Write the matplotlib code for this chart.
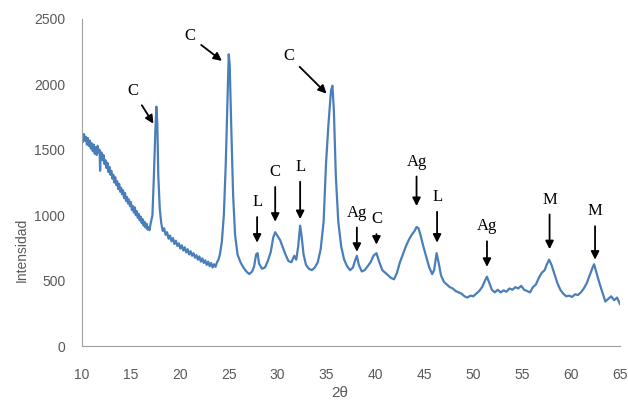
import matplotlib.pyplot as plt

# XRD pattern (2theta vs intensity)
two_theta = [
    10.0, 10.1, 10.2, 10.3, 10.4, 10.5, 10.6, 10.7, 10.8, 10.9, 11.0, 11.1,
    11.2, 11.3, 11.4, 11.5, 11.6, 11.7, 11.8, 11.85, 11.9, 12.0, 12.1, 12.2,
    12.3, 12.4, 12.5, 12.6, 12.7, 12.8, 12.9, 13.0, 13.1, 13.2, 13.3, 13.4,
    13.5, 13.6, 13.7, 13.8, 13.9, 14.0, 14.1, 14.2, 14.3, 14.4, 14.5, 14.6,
    14.7, 14.8, 14.9, 15.0, 15.1, 15.2, 15.3, 15.4, 15.5, 15.6, 15.7, 15.8,
    15.9, 16.0, 16.1, 16.2, 16.3, 16.4, 16.5, 16.6, 16.7, 16.8, 16.9, 17.0,
    17.2, 17.35, 17.5, 17.6, 17.7, 17.8, 17.95,
    18.1, 18.25, 18.4, 18.55, 18.7, 18.85, 19.0, 19.15, 19.3, 19.45, 19.6, 19.75,
    19.9, 20.05, 20.2, 20.35, 20.5, 20.65, 20.8, 20.95, 21.1, 21.25, 21.4, 21.55,
    21.7, 21.85, 22.0, 22.15, 22.3, 22.45, 22.6, 22.75, 22.9, 23.05, 23.2, 23.35,
    23.5, 23.65, 23.8, 23.95, 24.1, 24.3, 24.5, 24.7, 24.85,
    25.0, 25.1, 25.25, 25.45, 25.65, 25.9, 26.2, 26.5, 26.8, 27.1, 27.4, 27.6,
    27.8, 27.95, 28.1, 28.4, 28.7, 29.0, 29.3, 29.55, 29.75, 30.0, 30.25, 30.5,
    30.8, 31.1, 31.4, 31.7, 31.9, 32.1, 32.3, 32.45, 32.65, 32.9, 33.2, 33.5,
    33.8, 34.1, 34.4, 34.7, 34.95, 35.2, 35.45, 35.6, 35.75, 35.95, 36.2, 36.5,
    36.8, 37.1, 37.4, 37.7, 37.9, 38.1, 38.3, 38.6, 38.9, 39.2, 39.5, 39.8,
    40.1, 40.4, 40.7, 41.0, 41.3, 41.6, 41.9, 42.2, 42.5, 42.8, 43.1, 43.4,
    43.7, 44.0, 44.2, 44.4, 44.6, 44.9, 45.2, 45.5, 45.8, 46.0, 46.25, 46.45,
    46.7, 47.0, 47.3, 47.6, 47.9, 48.2, 48.5, 48.8, 49.1, 49.4, 49.7, 50.0,
    50.3, 50.6, 50.9, 51.2, 51.4, 51.6, 51.9, 52.2, 52.5, 52.8, 53.1, 53.4,
    53.7, 54.0, 54.3, 54.6, 54.9, 55.2, 55.5, 55.8, 56.1, 56.4, 56.7, 57.0,
    57.3, 57.5, 57.75, 58.0, 58.3, 58.6, 58.9, 59.2, 59.5, 59.8, 60.1, 60.4,
    60.7, 61.0, 61.3, 61.6, 61.9, 62.2, 62.35, 62.6, 62.9, 63.2, 63.5, 63.8,
    64.1, 64.4, 64.7, 65.0,
]
intensity = [
    1610, 1560, 1620, 1570, 1600, 1540, 1590, 1530, 1570, 1510, 1550, 1490,
    1540, 1470, 1520, 1460, 1530, 1480, 1500, 1340, 1470, 1480, 1420, 1460,
    1390, 1420, 1360, 1400, 1330, 1370, 1310, 1340, 1280, 1310, 1250, 1290,
    1230, 1260, 1200, 1240, 1180, 1210, 1160, 1190, 1130, 1170, 1110, 1140,
    1090, 1120, 1070, 1100, 1040, 1070, 1020, 1060, 1000, 1030, 980, 1010,
    960, 990, 940, 970, 920, 950, 905, 935, 890, 910, 885, 930,
    1000, 1300, 1650, 1830, 1700, 1300, 1050,
    940, 880, 900, 850, 870, 820, 845, 800, 825, 780, 805, 765,
    785, 745, 770, 730, 755, 715, 740, 700, 725, 690, 710, 675,
    695, 660, 685, 645, 670, 635, 655, 620, 645, 610, 635, 600,
    625, 605, 640, 660, 700, 800, 1000, 1400, 1800,
    2230, 2150, 1700, 1150, 850, 700, 640, 600, 570, 550, 570, 610,
    700, 710, 630, 590, 600, 650, 720, 830, 870, 840, 810, 760,
    700, 650, 640, 690, 660, 760, 920, 840, 700, 620, 590, 580,
    600, 640, 740, 950, 1400, 1700, 1950, 1990, 1800, 1300, 950, 760,
    660, 610, 580, 600, 650, 690, 620, 570, 580, 610, 640, 690,
    710, 640, 580, 560, 540, 520, 510, 560, 640, 700, 760, 810,
    850, 880, 910, 900, 850, 760, 680, 600, 550, 580, 710, 640,
    540, 490, 470, 450, 440, 420, 410, 400, 380, 370, 385, 380,
    400, 420, 450, 500, 530, 490, 430, 410, 430, 410, 425, 415,
    440, 430, 450, 440, 460, 430, 420, 410, 450, 470, 520, 560,
    580, 620, 660, 620, 550, 480, 430, 400, 380, 385, 375, 395,
    390, 410, 440, 480, 540, 600, 625, 560, 480, 410, 340, 360,
    380, 350, 370, 320,
]

# phase labels: text position and arrow tip (data coords)
labels = ['C', 'C', 'C', 'L', 'C', 'L', 'Ag', 'C', 'Ag', 'L', 'Ag', 'M', 'M']
text_x = [15.2, 21.0, 31.1, 27.9, 29.75, 32.3, 38.1, 40.1, 44.2, 46.3, 51.4, 57.8, 62.45]
text_y = [1950, 2370, 2220, 1100, 1330, 1370, 1020, 970, 1410, 1140, 915, 1120, 1030]
tip_x = [17.3, 24.3, 35.0, 27.9, 29.75, 32.3, 38.1, 40.1, 44.2, 46.3, 51.4, 57.8, 62.45]
tip_y = [1700, 2180, 1930, 790, 950, 970, 720, 775, 1070, 790, 605, 740, 660]

fig = plt.figure(figsize=(6.28, 4.08), dpi=100)
ax = fig.add_axes([82/628, 1 - 346/408, 538/628, 327/408])

ax.plot(two_theta, intensity, color='#4a7ebb', lw=1.6)

for lab, tx, ty, px, py in zip(labels, text_x, text_y, tip_x, tip_y):
    ax.annotate(lab, xy=(px, py), xytext=(tx, ty), ha='center', va='center',
                fontsize=12, family='Liberation Serif',
                arrowprops=dict(arrowstyle='-|>', color='black', lw=1.3,
                                mutation_scale=12, shrinkA=3, shrinkB=0))

ax.set_xlim(10, 65)
ax.set_ylim(0, 2500)
ax.set_xticks(range(10, 66, 5))
ax.set_yticks(range(0, 2501, 500))
for s in ['top', 'right']:
    ax.spines[s].set_visible(False)
for s in ['left', 'bottom']:
    ax.spines[s].set_color('#a0a0a0')
ax.tick_params(length=0, labelsize=10, labelcolor='#595959')
ax.tick_params(axis='x', pad=16)
ax.tick_params(axis='y', pad=12)
for t in ax.get_xticklabels() + ax.get_yticklabels():
    t.set_family('Liberation Sans')

fig.text(22/628, 1 - 250/408, 'Intensidad', rotation=90, ha='center', va='center',
         fontsize=10, color='#595959', family='Liberation Sans')
fig.text(340/628, 1 - 393/408, '2\u03b8', ha='center', va='center',
         fontsize=11, color='#595959', family='Liberation Sans')

fig.savefig('out.png', dpi=100)
